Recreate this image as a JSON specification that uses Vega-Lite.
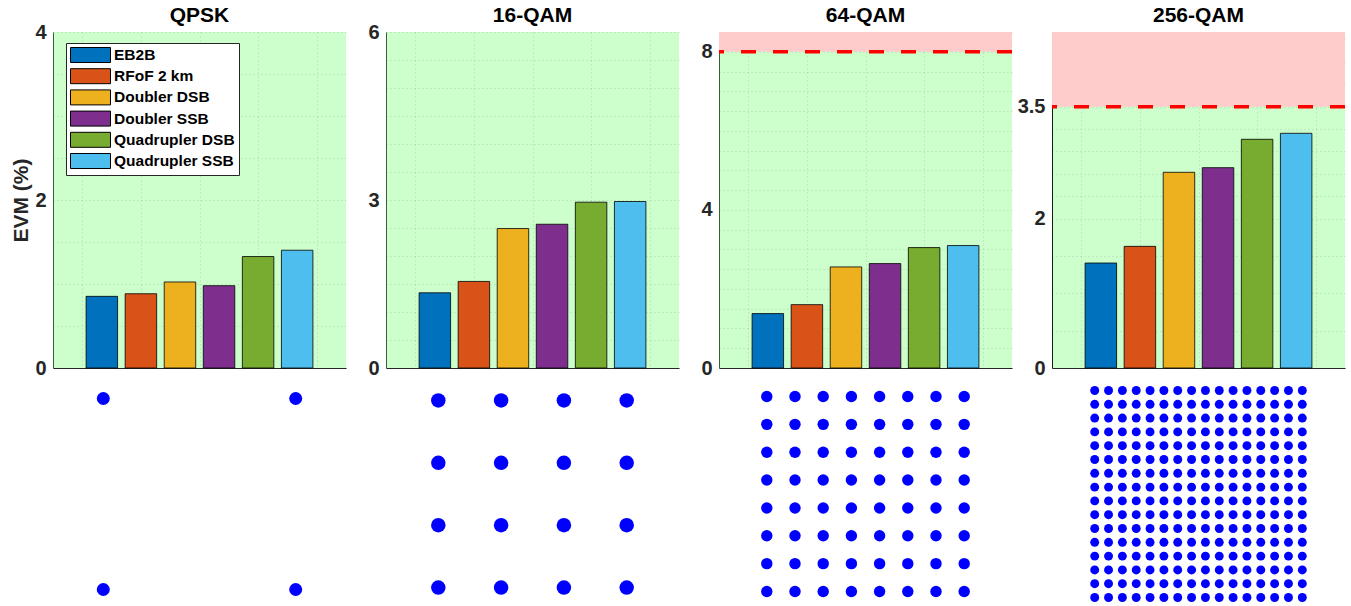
{
"$schema":"https://vega.github.io/schema/vega-lite/v6.json",
"padding":{"left":10,"top":4,"right":0,"bottom":0},
"columns":4,
"spacing":{"row":16,"column":40},
"bounds":"flush",
"resolve":{"scale":{"color":"independent"},"legend":{"color":"independent"}},
"config":{
 "font":"Liberation Sans",
 "view":{"stroke":null},
 "axis":{"labelFont":"Liberation Sans","labelFontSize":20,"labelFontWeight":"bold","labelColor":"#262626","titleFont":"Liberation Sans","titleFontSize":21,"titleFontWeight":"bold","titleColor":"#262626","gridColor":"#262626","gridOpacity":0.18,"gridDash":[1,3],"domainColor":"#262626","ticks":false,"labelPadding":7,"labelOverlap":false},
 "title":{"font":"Liberation Sans","fontSize":21,"fontWeight":"bold","color":"#000","anchor":"middle","baseline":"alphabetic","offset":9}
},
"datasets":{
 "bars":[
  {"mod":"QPSK","cfg":"EB2B","idx":1,"evm":0.853},
  {"mod":"QPSK","cfg":"RFoF 2 km","idx":2,"evm":0.884},
  {"mod":"QPSK","cfg":"Doubler DSB","idx":3,"evm":1.024},
  {"mod":"QPSK","cfg":"Doubler SSB","idx":4,"evm":0.98},
  {"mod":"QPSK","cfg":"Quadrupler DSB","idx":5,"evm":1.327},
  {"mod":"QPSK","cfg":"Quadrupler SSB","idx":6,"evm":1.402},
  {"mod":"16-QAM","cfg":"EB2B","idx":1,"evm":1.343},
  {"mod":"16-QAM","cfg":"RFoF 2 km","idx":2,"evm":1.546},
  {"mod":"16-QAM","cfg":"Doubler DSB","idx":3,"evm":2.49},
  {"mod":"16-QAM","cfg":"Doubler SSB","idx":4,"evm":2.567},
  {"mod":"16-QAM","cfg":"Quadrupler DSB","idx":5,"evm":2.961},
  {"mod":"16-QAM","cfg":"Quadrupler SSB","idx":6,"evm":2.973},
  {"mod":"64-QAM","cfg":"EB2B","idx":1,"evm":1.376},
  {"mod":"64-QAM","cfg":"RFoF 2 km","idx":2,"evm":1.603},
  {"mod":"64-QAM","cfg":"Doubler DSB","idx":3,"evm":2.557},
  {"mod":"64-QAM","cfg":"Doubler SSB","idx":4,"evm":2.641},
  {"mod":"64-QAM","cfg":"Quadrupler DSB","idx":5,"evm":3.046},
  {"mod":"64-QAM","cfg":"Quadrupler SSB","idx":6,"evm":3.097},
  {"mod":"256-QAM","cfg":"EB2B","idx":1,"evm":1.406},
  {"mod":"256-QAM","cfg":"RFoF 2 km","idx":2,"evm":1.629},
  {"mod":"256-QAM","cfg":"Doubler DSB","idx":3,"evm":2.621},
  {"mod":"256-QAM","cfg":"Doubler SSB","idx":4,"evm":2.683},
  {"mod":"256-QAM","cfg":"Quadrupler DSB","idx":5,"evm":3.063},
  {"mod":"256-QAM","cfg":"Quadrupler SSB","idx":6,"evm":3.143}
 ],
 "zones":[
  {"mod":"64-QAM","lo":8,"hi":8.5},
  {"mod":"256-QAM","lo":3.5,"hi":4.5}
 ],
 "c4":[{"i":-1,"q":1},{"i":1,"q":1},{"i":-1,"q":-1},{"i":1,"q":-1}],
 "c16":[
  {"i":-3,"q":3},{"i":-1,"q":3},{"i":1,"q":3},{"i":3,"q":3},
  {"i":-3,"q":1},{"i":-1,"q":1},{"i":1,"q":1},{"i":3,"q":1},
  {"i":-3,"q":-1},{"i":-1,"q":-1},{"i":1,"q":-1},{"i":3,"q":-1},
  {"i":-3,"q":-3},{"i":-1,"q":-3},{"i":1,"q":-3},{"i":3,"q":-3}
 ],
 "c64":[
  {"i":-7,"q":7},{"i":-5,"q":7},{"i":-3,"q":7},{"i":-1,"q":7},{"i":1,"q":7},{"i":3,"q":7},{"i":5,"q":7},{"i":7,"q":7},
  {"i":-7,"q":5},{"i":-5,"q":5},{"i":-3,"q":5},{"i":-1,"q":5},{"i":1,"q":5},{"i":3,"q":5},{"i":5,"q":5},{"i":7,"q":5},
  {"i":-7,"q":3},{"i":-5,"q":3},{"i":-3,"q":3},{"i":-1,"q":3},{"i":1,"q":3},{"i":3,"q":3},{"i":5,"q":3},{"i":7,"q":3},
  {"i":-7,"q":1},{"i":-5,"q":1},{"i":-3,"q":1},{"i":-1,"q":1},{"i":1,"q":1},{"i":3,"q":1},{"i":5,"q":1},{"i":7,"q":1},
  {"i":-7,"q":-1},{"i":-5,"q":-1},{"i":-3,"q":-1},{"i":-1,"q":-1},{"i":1,"q":-1},{"i":3,"q":-1},{"i":5,"q":-1},{"i":7,"q":-1},
  {"i":-7,"q":-3},{"i":-5,"q":-3},{"i":-3,"q":-3},{"i":-1,"q":-3},{"i":1,"q":-3},{"i":3,"q":-3},{"i":5,"q":-3},{"i":7,"q":-3},
  {"i":-7,"q":-5},{"i":-5,"q":-5},{"i":-3,"q":-5},{"i":-1,"q":-5},{"i":1,"q":-5},{"i":3,"q":-5},{"i":5,"q":-5},{"i":7,"q":-5},
  {"i":-7,"q":-7},{"i":-5,"q":-7},{"i":-3,"q":-7},{"i":-1,"q":-7},{"i":1,"q":-7},{"i":3,"q":-7},{"i":5,"q":-7},{"i":7,"q":-7}
 ],
 "c256":[
  {"i":-15,"q":15},{"i":-13,"q":15},{"i":-11,"q":15},{"i":-9,"q":15},{"i":-7,"q":15},{"i":-5,"q":15},{"i":-3,"q":15},{"i":-1,"q":15},{"i":1,"q":15},{"i":3,"q":15},{"i":5,"q":15},{"i":7,"q":15},{"i":9,"q":15},{"i":11,"q":15},{"i":13,"q":15},{"i":15,"q":15},
  {"i":-15,"q":13},{"i":-13,"q":13},{"i":-11,"q":13},{"i":-9,"q":13},{"i":-7,"q":13},{"i":-5,"q":13},{"i":-3,"q":13},{"i":-1,"q":13},{"i":1,"q":13},{"i":3,"q":13},{"i":5,"q":13},{"i":7,"q":13},{"i":9,"q":13},{"i":11,"q":13},{"i":13,"q":13},{"i":15,"q":13},
  {"i":-15,"q":11},{"i":-13,"q":11},{"i":-11,"q":11},{"i":-9,"q":11},{"i":-7,"q":11},{"i":-5,"q":11},{"i":-3,"q":11},{"i":-1,"q":11},{"i":1,"q":11},{"i":3,"q":11},{"i":5,"q":11},{"i":7,"q":11},{"i":9,"q":11},{"i":11,"q":11},{"i":13,"q":11},{"i":15,"q":11},
  {"i":-15,"q":9},{"i":-13,"q":9},{"i":-11,"q":9},{"i":-9,"q":9},{"i":-7,"q":9},{"i":-5,"q":9},{"i":-3,"q":9},{"i":-1,"q":9},{"i":1,"q":9},{"i":3,"q":9},{"i":5,"q":9},{"i":7,"q":9},{"i":9,"q":9},{"i":11,"q":9},{"i":13,"q":9},{"i":15,"q":9},
  {"i":-15,"q":7},{"i":-13,"q":7},{"i":-11,"q":7},{"i":-9,"q":7},{"i":-7,"q":7},{"i":-5,"q":7},{"i":-3,"q":7},{"i":-1,"q":7},{"i":1,"q":7},{"i":3,"q":7},{"i":5,"q":7},{"i":7,"q":7},{"i":9,"q":7},{"i":11,"q":7},{"i":13,"q":7},{"i":15,"q":7},
  {"i":-15,"q":5},{"i":-13,"q":5},{"i":-11,"q":5},{"i":-9,"q":5},{"i":-7,"q":5},{"i":-5,"q":5},{"i":-3,"q":5},{"i":-1,"q":5},{"i":1,"q":5},{"i":3,"q":5},{"i":5,"q":5},{"i":7,"q":5},{"i":9,"q":5},{"i":11,"q":5},{"i":13,"q":5},{"i":15,"q":5},
  {"i":-15,"q":3},{"i":-13,"q":3},{"i":-11,"q":3},{"i":-9,"q":3},{"i":-7,"q":3},{"i":-5,"q":3},{"i":-3,"q":3},{"i":-1,"q":3},{"i":1,"q":3},{"i":3,"q":3},{"i":5,"q":3},{"i":7,"q":3},{"i":9,"q":3},{"i":11,"q":3},{"i":13,"q":3},{"i":15,"q":3},
  {"i":-15,"q":1},{"i":-13,"q":1},{"i":-11,"q":1},{"i":-9,"q":1},{"i":-7,"q":1},{"i":-5,"q":1},{"i":-3,"q":1},{"i":-1,"q":1},{"i":1,"q":1},{"i":3,"q":1},{"i":5,"q":1},{"i":7,"q":1},{"i":9,"q":1},{"i":11,"q":1},{"i":13,"q":1},{"i":15,"q":1},
  {"i":-15,"q":-1},{"i":-13,"q":-1},{"i":-11,"q":-1},{"i":-9,"q":-1},{"i":-7,"q":-1},{"i":-5,"q":-1},{"i":-3,"q":-1},{"i":-1,"q":-1},{"i":1,"q":-1},{"i":3,"q":-1},{"i":5,"q":-1},{"i":7,"q":-1},{"i":9,"q":-1},{"i":11,"q":-1},{"i":13,"q":-1},{"i":15,"q":-1},
  {"i":-15,"q":-3},{"i":-13,"q":-3},{"i":-11,"q":-3},{"i":-9,"q":-3},{"i":-7,"q":-3},{"i":-5,"q":-3},{"i":-3,"q":-3},{"i":-1,"q":-3},{"i":1,"q":-3},{"i":3,"q":-3},{"i":5,"q":-3},{"i":7,"q":-3},{"i":9,"q":-3},{"i":11,"q":-3},{"i":13,"q":-3},{"i":15,"q":-3},
  {"i":-15,"q":-5},{"i":-13,"q":-5},{"i":-11,"q":-5},{"i":-9,"q":-5},{"i":-7,"q":-5},{"i":-5,"q":-5},{"i":-3,"q":-5},{"i":-1,"q":-5},{"i":1,"q":-5},{"i":3,"q":-5},{"i":5,"q":-5},{"i":7,"q":-5},{"i":9,"q":-5},{"i":11,"q":-5},{"i":13,"q":-5},{"i":15,"q":-5},
  {"i":-15,"q":-7},{"i":-13,"q":-7},{"i":-11,"q":-7},{"i":-9,"q":-7},{"i":-7,"q":-7},{"i":-5,"q":-7},{"i":-3,"q":-7},{"i":-1,"q":-7},{"i":1,"q":-7},{"i":3,"q":-7},{"i":5,"q":-7},{"i":7,"q":-7},{"i":9,"q":-7},{"i":11,"q":-7},{"i":13,"q":-7},{"i":15,"q":-7},
  {"i":-15,"q":-9},{"i":-13,"q":-9},{"i":-11,"q":-9},{"i":-9,"q":-9},{"i":-7,"q":-9},{"i":-5,"q":-9},{"i":-3,"q":-9},{"i":-1,"q":-9},{"i":1,"q":-9},{"i":3,"q":-9},{"i":5,"q":-9},{"i":7,"q":-9},{"i":9,"q":-9},{"i":11,"q":-9},{"i":13,"q":-9},{"i":15,"q":-9},
  {"i":-15,"q":-11},{"i":-13,"q":-11},{"i":-11,"q":-11},{"i":-9,"q":-11},{"i":-7,"q":-11},{"i":-5,"q":-11},{"i":-3,"q":-11},{"i":-1,"q":-11},{"i":1,"q":-11},{"i":3,"q":-11},{"i":5,"q":-11},{"i":7,"q":-11},{"i":9,"q":-11},{"i":11,"q":-11},{"i":13,"q":-11},{"i":15,"q":-11},
  {"i":-15,"q":-13},{"i":-13,"q":-13},{"i":-11,"q":-13},{"i":-9,"q":-13},{"i":-7,"q":-13},{"i":-5,"q":-13},{"i":-3,"q":-13},{"i":-1,"q":-13},{"i":1,"q":-13},{"i":3,"q":-13},{"i":5,"q":-13},{"i":7,"q":-13},{"i":9,"q":-13},{"i":11,"q":-13},{"i":13,"q":-13},{"i":15,"q":-13},
  {"i":-15,"q":-15},{"i":-13,"q":-15},{"i":-11,"q":-15},{"i":-9,"q":-15},{"i":-7,"q":-15},{"i":-5,"q":-15},{"i":-3,"q":-15},{"i":-1,"q":-15},{"i":1,"q":-15},{"i":3,"q":-15},{"i":5,"q":-15},{"i":7,"q":-15},{"i":9,"q":-15},{"i":11,"q":-15},{"i":13,"q":-15},{"i":15,"q":-15}
 ]
},
"concat":[
 {
  "width":293,"height":336,
  "title":{"text":"QPSK","offset":-4},
  "view":{"fill":"#ccffcc","stroke":null},
  "data":{"name":"bars"},
  "transform":[{"filter":"datum.mod == 'QPSK'"}],
  "mark":{"type":"bar","width":31.5,"stroke":"#000","strokeWidth":1,"strokeOpacity":0.8},
  "encoding":{
   "x":{"field":"idx","type":"quantitative","scale":{"domain":[-0.25,7.25],"nice":false,"zero":false,"padding":0},"axis":{"values":[0.5,2,3.5,5,6.5],"labels":false,"ticks":false,"grid":true,"title":null}},
   "y":{"field":"evm","type":"quantitative","scale":{"domain":[0,4],"nice":false},"axis":{"values":[0,0.5,1,1.5,2,2.5,3,3.5,4],"labelExpr":"indexof([0,2,4], datum.value) >= 0 ? toString(datum.value) : ''","grid":true,"title":"EVM (%)","titlePadding":3,"domainColor":"#3d5c3d"}},
   "color":{"field":"cfg","type":"nominal","scale":{"domain":["EB2B","RFoF 2 km","Doubler DSB","Doubler SSB","Quadrupler DSB","Quadrupler SSB"],"range":["#0072BD","#D95319","#EDB120","#7E2F8E","#77AC30","#4DBEEE"]},
     "legend":{"orient":"none","legendX":13,"legendY":11,"title":null,"symbolType":"M-1,-1L4.333,-1L4.333,1L-1,1Z","symbolSize":225,"symbolStrokeColor":"#000","symbolStrokeWidth":1,"symbolOpacity":1,"labelFont":"Liberation Sans","labelFontSize":15.5,"labelFontWeight":"bold","labelColor":"#000","labelOffset":28,"labelLimit":300,"rowPadding":1.2,"padding":4,"strokeColor":"#262626","fillColor":"#ffffff","cornerRadius":0}}
  }
 },
 {
  "width":293,"height":336,
  "title":{"text":"16-QAM","offset":-4},
  "view":{"fill":"#ccffcc","stroke":null},
  "data":{"name":"bars"},
  "transform":[{"filter":"datum.mod == '16-QAM'"}],
  "mark":{"type":"bar","width":31.5,"stroke":"#000","strokeWidth":1,"strokeOpacity":0.8},
  "encoding":{
   "x":{"field":"idx","type":"quantitative","scale":{"domain":[-0.25,7.25],"nice":false,"zero":false,"padding":0},"axis":{"values":[0.5,2,3.5,5,6.5],"labels":false,"ticks":false,"grid":true,"title":null}},
   "y":{"field":"evm","type":"quantitative","scale":{"domain":[0,6],"nice":false},"axis":{"values":[0,0.5,1,1.5,2,2.5,3,3.5,4,4.5,5,5.5,6],"labelExpr":"indexof([0,3,6], datum.value) >= 0 ? toString(datum.value) : ''","grid":true,"title":null,"domainColor":"#3d5c3d"}},
   "color":{"field":"cfg","type":"nominal","scale":{"domain":["EB2B","RFoF 2 km","Doubler DSB","Doubler SSB","Quadrupler DSB","Quadrupler SSB"],"range":["#0072BD","#D95319","#EDB120","#7E2F8E","#77AC30","#4DBEEE"]},"legend":null}
  }
 },
 {
  "width":293,"height":336,
  "title":{"text":"64-QAM","offset":-4},
  "view":{"fill":"#ccffcc","stroke":null},
  "layer":[
   {
    "data":{"name":"bars"},
    "transform":[{"filter":"datum.mod == '64-QAM'"}],
    "mark":{"type":"bar","width":31.5,"stroke":"#000","strokeWidth":1,"strokeOpacity":0.8},
    "encoding":{
     "x":{"field":"idx","type":"quantitative","scale":{"domain":[-0.25,7.25],"nice":false,"zero":false,"padding":0},"axis":{"values":[0.5,2,3.5,5,6.5],"labels":false,"ticks":false,"grid":true,"title":null}},
     "y":{"field":"evm","type":"quantitative","scale":{"domain":[0,8.5],"nice":false},"axis":{"values":[0,0.5,1,1.5,2,2.5,3,3.5,4,4.5,5,5.5,6,6.5,7,7.5,8,8.5],"labelExpr":"indexof([0,4,8], datum.value) >= 0 ? toString(datum.value) : ''","grid":true,"title":null,"domainColor":"#3d5c3d"}},
     "color":{"field":"cfg","type":"nominal","scale":{"domain":["EB2B","RFoF 2 km","Doubler DSB","Doubler SSB","Quadrupler DSB","Quadrupler SSB"],"range":["#0072BD","#D95319","#EDB120","#7E2F8E","#77AC30","#4DBEEE"]},"legend":null}
    }
   },
   {
    "data":{"name":"zones"},
    "transform":[{"filter":"datum.mod == '64-QAM'"}],
    "mark":{"type":"rect","color":"#ffcccc"},
    "encoding":{"y":{"field":"lo","type":"quantitative","axis":{"values":[0,0.5,1,1.5,2,2.5,3,3.5,4,4.5,5,5.5,6,6.5,7,7.5,8,8.5],"labelExpr":"indexof([0,4,8], datum.value) >= 0 ? toString(datum.value) : ''","grid":true,"title":null,"domainColor":"#3d5c3d"}},"y2":{"field":"hi"}}
   },
   {
    "data":{"name":"zones"},
    "transform":[{"filter":"datum.mod == '64-QAM'"}],
    "mark":{"type":"rule","color":"#ff0000","strokeWidth":3.5,"strokeDash":[15,17]},
    "encoding":{"y":{"field":"lo","type":"quantitative","axis":{"values":[0,0.5,1,1.5,2,2.5,3,3.5,4,4.5,5,5.5,6,6.5,7,7.5,8,8.5],"labelExpr":"indexof([0,4,8], datum.value) >= 0 ? toString(datum.value) : ''","grid":true,"title":null,"domainColor":"#3d5c3d"}}}
   }
  ]
 },
 {
  "width":293,"height":336,
  "title":{"text":"256-QAM","offset":3.5},
  "view":{"fill":"#ccffcc","stroke":null},
  "layer":[
   {
    "data":{"name":"bars"},
    "transform":[{"filter":"datum.mod == '256-QAM'"}],
    "mark":{"type":"bar","width":31.5,"stroke":"#000","strokeWidth":1,"strokeOpacity":0.8},
    "encoding":{
     "x":{"field":"idx","type":"quantitative","scale":{"domain":[-0.25,7.25],"nice":false,"zero":false,"padding":0},"axis":{"values":[0.5,2,3.5,5,6.5],"labels":false,"ticks":false,"grid":true,"title":null}},
     "y":{"field":"evm","type":"quantitative","scale":{"domain":[0,4.5],"nice":false},"axis":{"values":[0,0.5,1,1.5,2,2.3,2.6,2.9,3.2,3.5,3.8,4.1,4.4],"labelExpr":"indexof([0,2,3.5], datum.value) >= 0 ? toString(datum.value) : ''","grid":true,"title":null,"domainColor":"#1a1a1a"}},
     "color":{"field":"cfg","type":"nominal","scale":{"domain":["EB2B","RFoF 2 km","Doubler DSB","Doubler SSB","Quadrupler DSB","Quadrupler SSB"],"range":["#0072BD","#D95319","#EDB120","#7E2F8E","#77AC30","#4DBEEE"]},"legend":null}
    }
   },
   {
    "data":{"name":"zones"},
    "transform":[{"filter":"datum.mod == '256-QAM'"}],
    "mark":{"type":"rect","color":"#ffcccc"},
    "encoding":{"y":{"field":"lo","type":"quantitative","axis":{"values":[0,0.5,1,1.5,2,2.3,2.6,2.9,3.2,3.5,3.8,4.1,4.4],"labelExpr":"indexof([0,2,3.5], datum.value) >= 0 ? toString(datum.value) : ''","grid":true,"title":null,"domainColor":"#1a1a1a"}},"y2":{"field":"hi"}}
   },
   {
    "data":{"name":"zones"},
    "transform":[{"filter":"datum.mod == '256-QAM'"}],
    "mark":{"type":"rule","color":"#ff0000","strokeWidth":3.5,"strokeDash":[15,17]},
    "encoding":{"y":{"field":"lo","type":"quantitative","axis":{"values":[0,0.5,1,1.5,2,2.3,2.6,2.9,3.2,3.5,3.8,4.1,4.4],"labelExpr":"indexof([0,2,3.5], datum.value) >= 0 ? toString(datum.value) : ''","grid":true,"title":null,"domainColor":"#1a1a1a"}}}
   }
  ]
 },
 {
  "width":293,"height":220,
  "data":{"name":"c4"},
  "mark":{"type":"circle","color":"#0000ff","opacity":1,"size":169},
  "encoding":{
   "x":{"field":"i","type":"quantitative","scale":{"domain":[-1.523,1.523],"nice":false,"zero":false},"axis":null},
   "y":{"field":"q","type":"quantitative","scale":{"domain":[-1.152,1.152],"nice":false,"zero":false},"axis":null}
  }
 },
 {
  "width":293,"height":220,
  "data":{"name":"c16"},
  "mark":{"type":"circle","color":"#0000ff","opacity":1,"size":210},
  "encoding":{
   "x":{"field":"i","type":"quantitative","scale":{"domain":[-4.666,4.666],"nice":false,"zero":false},"axis":null},
   "y":{"field":"q","type":"quantitative","scale":{"domain":[-3.526,3.526],"nice":false,"zero":false},"axis":null}
  }
 },
 {
  "width":293,"height":220,
  "data":{"name":"c64"},
  "mark":{"type":"circle","color":"#0000ff","opacity":1,"size":130},
  "encoding":{
   "x":{"field":"i","type":"quantitative","scale":{"domain":[-10.39,10.39],"nice":false,"zero":false},"axis":null},
   "y":{"field":"q","type":"quantitative","scale":{"domain":[-7.897,7.897],"nice":false,"zero":false},"axis":null}
  }
 },
 {
  "width":293,"height":220,
  "data":{"name":"c256"},
  "mark":{"type":"circle","color":"#0000ff","opacity":1,"size":80},
  "encoding":{
   "x":{"field":"i","type":"quantitative","scale":{"domain":[-21.17,21.17],"nice":false,"zero":false},"axis":null},
   "y":{"field":"q","type":"quantitative","scale":{"domain":[-15.94,15.94],"nice":false,"zero":false},"axis":null}
  }
 }
]
}
